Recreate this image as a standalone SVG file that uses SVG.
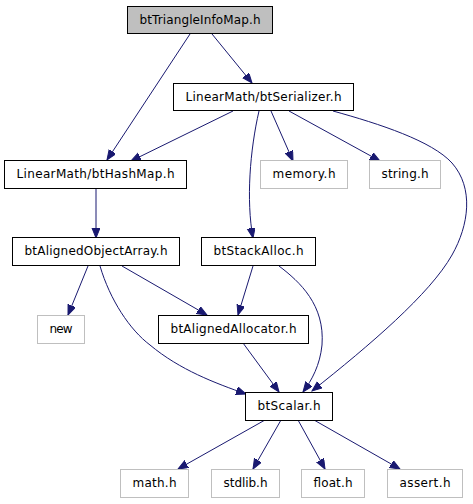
<svg xmlns="http://www.w3.org/2000/svg" width="473" height="504" viewBox="0 0 473 504">
<style>
.n rect{fill:#ffffff;stroke:#000000;stroke-width:1}
.n.root rect{fill:#bfbfbf}
.n.ext rect{stroke:#bfbfbf}
text{font-family:"DejaVu Sans",sans-serif;font-size:12px;fill:#000000;text-anchor:middle}
.e path{fill:none;stroke:#191970;stroke-width:1}
</style>
<defs>
<marker id="a" markerUnits="userSpaceOnUse" markerWidth="12" markerHeight="9" refX="10" refY="4" orient="auto">
<path d="M0,0 L10,4 L0,8 z" fill="#191970" stroke="#191970" stroke-width="1"/>
</marker>
</defs>
<rect width="473" height="504" fill="#ffffff"/>
<g class="e">
<path d="M190,34 L107,160" marker-end="url(#a)"/>
<path d="M212,34 L252,83" marker-end="url(#a)"/>
<path d="M233,111 L131,161" marker-end="url(#a)"/>
<path d="M259,111 C250,150 246,200 253,238" marker-end="url(#a)"/>
<path d="M271,111 L293,161" marker-end="url(#a)"/>
<path d="M289,111 L380,161" marker-end="url(#a)"/>
<path d="M333,111 C380,124 432,141 452,163 C474,188 469,225 452,255 C430,294 370,345 312,391" marker-end="url(#a)"/>
<path d="M96,188 L96,238" marker-end="url(#a)"/>
<path d="M88,266 L68,315" marker-end="url(#a)"/>
<path d="M122,266 L207,315" marker-end="url(#a)"/>
<path d="M100,266 C110,300 130,330 150,345 C180,370 215,383 246,394" marker-end="url(#a)"/>
<path d="M253,266 L238,315" marker-end="url(#a)"/>
<path d="M279,266 C300,282 325,305 322,345 C320,365 312,380 303,392" marker-end="url(#a)"/>
<path d="M243,343 L279,392" marker-end="url(#a)"/>
<path d="M265,420 L178,469" marker-end="url(#a)"/>
<path d="M281,420 L253,469" marker-end="url(#a)"/>
<path d="M298,420 L325,469" marker-end="url(#a)"/>
<path d="M314,420 L400,469" marker-end="url(#a)"/>
</g>
<g id="btTriangleInfoMap" class="n root"><rect x="127.5" y="6.5" width="145" height="27"/><text x="200" y="23.5" textLength="121">btTriangleInfoMap.h</text></g>
<g id="btSerializer" class="n"><rect x="173.5" y="83.5" width="180" height="27"/><text x="263.5" y="100.5" textLength="156">LinearMath/btSerializer.h</text></g>
<g id="btHashMap" class="n"><rect x="4.5" y="160.5" width="182" height="28"/><text x="95.5" y="178" textLength="158">LinearMath/btHashMap.h</text></g>
<g id="memory" class="n ext"><rect x="260.5" y="160.5" width="87" height="28"/><text x="304" y="178" textLength="63">memory.h</text></g>
<g id="string" class="n ext"><rect x="369.5" y="160.5" width="71" height="28"/><text x="405" y="178" textLength="47">string.h</text></g>
<g id="btAlignedObjectArray" class="n"><rect x="12.5" y="237.5" width="167" height="28"/><text x="96" y="255" textLength="143">btAlignedObjectArray.h</text></g>
<g id="btStackAlloc" class="n"><rect x="201.5" y="237.5" width="114" height="28"/><text x="258.5" y="255" textLength="90">btStackAlloc.h</text></g>
<g id="new" class="n ext"><rect x="37.5" y="315.5" width="47" height="28"/><text x="61" y="333" textLength="23">new</text></g>
<g id="btAlignedAllocator" class="n"><rect x="158.5" y="315.5" width="150" height="28"/><text x="233.5" y="333" textLength="126">btAlignedAllocator.h</text></g>
<g id="btScalar" class="n"><rect x="245.5" y="392.5" width="87" height="28"/><text x="289" y="410" textLength="63">btScalar.h</text></g>
<g id="math" class="n ext"><rect x="120.5" y="469.5" width="68" height="28"/><text x="154.5" y="487" textLength="44">math.h</text></g>
<g id="stdlib" class="n ext"><rect x="211.5" y="469.5" width="68" height="28"/><text x="245.5" y="487" textLength="44">stdlib.h</text></g>
<g id="float" class="n ext"><rect x="301.5" y="469.5" width="63" height="28"/><text x="333" y="487" textLength="39">float.h</text></g>
<g id="assert" class="n ext"><rect x="387.5" y="469.5" width="75" height="28"/><text x="425" y="487" textLength="51">assert.h</text></g>
</svg>
